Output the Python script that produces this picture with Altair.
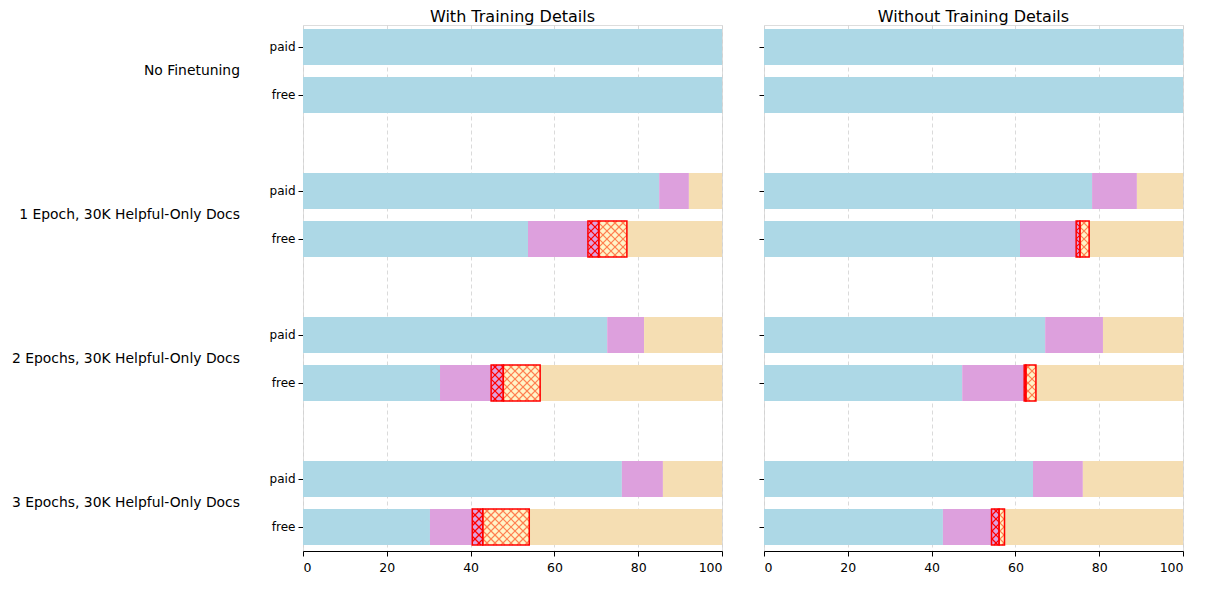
import altair as alt
import pandas as pd
import math

# ---------------- data ----------------
panels = ["With Training Details", "Without Training Details"]
groups = ["No Finetuning", "1 Epoch, 30K Helpful-Only Docs",
          "2 Epochs, 30K Helpful-Only Docs", "3 Epochs, 30K Helpful-Only Docs"]
tiers = ["paid", "free"]
segments = ["refuse", "comply", "comply_hatched", "partial_hatched", "other"]

# rows: NF paid, NF free, 1E paid, 1E free, 2E paid, 2E free, 3E paid, 3E free
with_refuse = [100, 100, 85.0, 53.7, 72.6, 32.7, 76.1, 30.3]
with_comply = [0, 0, 7.1, 14.3, 8.8, 12.2, 9.8, 10.1]
with_comply_hatched = [0, 0, 0, 2.6, 0, 2.9, 0, 2.5]
with_partial_hatched = [0, 0, 0, 6.7, 0, 8.8, 0, 11.1]
with_other = [0, 0, 7.9, 22.7, 18.6, 43.4, 14.1, 46.0]

without_refuse = [100, 100, 78.3, 61.1, 67.1, 47.3, 64.2, 42.7]
without_comply = [0, 0, 10.7, 13.4, 13.8, 14.8, 11.9, 11.6]
without_comply_hatched = [0, 0, 0, 0.9, 0, 0.4, 0, 1.8]
without_partial_hatched = [0, 0, 0, 2.2, 0, 2.4, 0, 1.3]
without_other = [0, 0, 11.0, 22.4, 19.1, 35.1, 23.9, 42.6]

panel_values = {
    panels[0]: [with_refuse, with_comply, with_comply_hatched, with_partial_hatched, with_other],
    panels[1]: [without_refuse, without_comply, without_comply_hatched, without_partial_hatched, without_other],
}

seg_colors = ["#ADD8E6", "#DDA0DD", "#DDA0DD", "#FFF4C8", "#F5DEB3"]
hatch_colors = ["#FF0000", "#FF7F50"]

# ---------------- layout constants ----------------
W, H = 419, 526
BAR = 0.375
YMIN, YMAX = -0.5, 10.4583
SX = W / 100.0
SY = H / (YMAX - YMIN)
PERIOD = 8.0  # hatch spacing in px


def row_pos(g, t):
    return (len(groups) - 1 - g) * 3 + (1 - t)


def hatch_lines(x0, x1, y0, y1, fam):
    X0, X1, Y0, Y1 = x0 * SX, x1 * SX, y0 * SY, y1 * SY
    out = []
    # family A: X - Y = c
    for k in range(math.floor((X0 - Y1) / PERIOD), math.ceil((X1 - Y0) / PERIOD) + 1):
        c = k * PERIOD
        lo, hi = max(X0, Y0 + c), min(X1, Y1 + c)
        if hi - lo > 0.2:
            out.append(dict(hx=lo / SX, hx2=hi / SX, hy=(lo - c) / SY, hy2=(hi - c) / SY, fam=fam))
    # family B: X + Y = c
    for k in range(math.floor((X0 + Y0) / PERIOD), math.ceil((X1 + Y1) / PERIOD) + 1):
        c = k * PERIOD
        lo, hi = max(X0, c - Y1), min(X1, c - Y0)
        if hi - lo > 0.2:
            out.append(dict(hx=lo / SX, hx2=hi / SX, hy=(c - lo) / SY, hy2=(c - hi) / SY, fam=fam))
    return out


positions = sorted(row_pos(g, t) for g in range(len(groups)) for t in range(2))
group_df = pd.DataFrame({
    "label": groups,
    "gy": [(row_pos(g, 0) + row_pos(g, 1)) / 2 for g in range(len(groups))],
})

xscale = alt.Scale(domain=[0, 100], nice=False, zero=False)
yscale = alt.Scale(domain=[YMIN, YMAX], nice=False, zero=False)


def make_panel(panel, show_labels):
    vals = panel_values[panel]
    bars, hatches = [], []
    for g in range(len(groups)):
        for t in range(2):
            r = g * 2 + t
            y = row_pos(g, t)
            start = 0.0
            for s, seg in enumerate(segments):
                w = vals[s][r]
                if w > 0:
                    bars.append(dict(seg=seg, x0=start, x1=start + w, y0=y - BAR, y1=y + BAR,
                                     hatched=seg.endswith("hatched")))
                    if seg.endswith("hatched"):
                        hatches += hatch_lines(start, start + w, y - BAR, y + BAR, seg)
                start += w
    bdf = pd.DataFrame(bars)
    hdf = pd.DataFrame(hatches)

    xaxis = alt.Axis(values=[0, 20, 40, 60, 80, 100], title=None, grid=True,
                     gridDash=[4, 3], gridColor="#d0d0d0", gridWidth=0.8,
                     domainColor="black", tickColor="black", tickSize=5,
                     labelFontSize=12.5, labelColor="black", labelPadding=5)
    yaxis = alt.Axis(values=positions, title=None, grid=False, domain=False,
                     tickColor="black", tickSize=5, labels=show_labels,
                     labelExpr="datum.value % 3 == 1 ? 'paid' : 'free'",
                     labelFontSize=12, labelColor="black", labelPadding=3)

    base_bars = alt.Chart(bdf).mark_rect().encode(
        x=alt.X("x0:Q", scale=xscale, axis=xaxis),
        x2="x1",
        y=alt.Y("y0:Q", scale=yscale, axis=yaxis),
        y2="y1",
        fill=alt.Fill("seg:N", scale=alt.Scale(domain=segments, range=seg_colors), legend=None),
    )
    hatch = alt.Chart(hdf).mark_rule(strokeWidth=1.2).encode(
        x=alt.X("hx:Q", scale=xscale, axis=xaxis),
        x2="hx2",
        y=alt.Y("hy:Q", scale=yscale, axis=yaxis),
        y2="hy2",
        stroke=alt.Stroke("fam:N", scale=alt.Scale(domain=segments[2:4], range=hatch_colors), legend=None),
    )
    outline = alt.Chart(bdf).transform_filter("datum.hatched").mark_rect(
        filled=False, stroke="#FF0000", strokeWidth=1.5
    ).encode(
        x=alt.X("x0:Q", scale=xscale, axis=xaxis),
        x2="x1",
        y=alt.Y("y0:Q", scale=yscale, axis=yaxis),
        y2="y1",
    )
    layers = [base_bars, hatch, outline]
    if show_labels:
        text = alt.Chart(group_df).mark_text(align="right", baseline="middle", fontSize=13.9,
                                             font="DejaVu Sans", color="black").encode(
            x=alt.value(-63),
            y=alt.Y("gy:Q", scale=yscale, axis=yaxis),
            text="label:N",
        )
        layers.append(text)
    return alt.layer(*layers).properties(
        width=W, height=H,
        title=alt.TitleParams(panel, fontSize=16, fontWeight="normal", font="DejaVu Sans",
                              color="black", anchor="middle", offset=0),
    )


chart = alt.hconcat(make_panel(panels[0], True), make_panel(panels[1], False), spacing=35).properties(
    padding={"left": 3, "top": 0, "right": 5, "bottom": 5}
).configure_view(strokeWidth=0).configure_axis(labelFont="DejaVu Sans").configure(font="DejaVu Sans")

chart.save("out.html", embed_options={"renderer": "svg", "actions": False})
